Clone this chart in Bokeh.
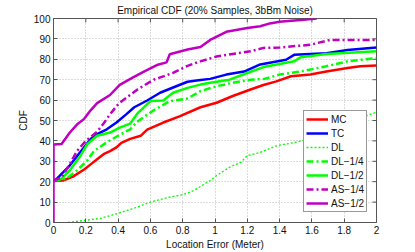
import math
from bokeh.plotting import figure
from bokeh.models import Range1d, FixedTicker, Legend, LegendItem
from bokeh.embed import file_html
from bokeh.resources import INLINE

# ---- data ----
x_ticks = [0, 0.2, 0.4, 0.6, 0.8, 1, 1.2, 1.4, 1.6, 1.8, 2]
x_tick_labels = ["0", "0.2", "0.4", "0.6", "0.8", "1", "1.2", "1.4", "1.6", "1.8", "2"]
y_ticks = [0, 10, 20, 30, 40, 50, 60, 70, 80, 90, 100]
y_tick_labels = ["0", "10", "20", "30", "40", "50", "60", "70", "80", "90", "100"]

mc_x = [0, 0.06, 0.12, 0.19, 0.23, 0.27, 0.31, 0.35, 0.39, 0.42, 0.475, 0.54, 0.58, 0.68, 0.78, 0.91, 1.01, 1.11, 1.22, 1.30, 1.38, 1.47, 1.59, 1.69, 1.82, 1.90, 2.0]
mc_y = [20.3, 20.6, 22.5, 26.0, 28.5, 31.0, 33.5, 35.0, 36.8, 39.0, 41.0, 42.5, 45.5, 49.0, 52.0, 56.5, 58.7, 62.0, 65.2, 67.4, 69.2, 71.7, 72.5, 74.0, 75.7, 76.6, 77.0]

tc_x = [0, 0.02, 0.10, 0.165, 0.23, 0.27, 0.33, 0.39, 0.45, 0.50, 0.58, 0.66, 0.76, 0.83, 0.91, 0.97, 1.07, 1.18, 1.28, 1.44, 1.49, 1.69, 1.82, 2.0]
tc_y = [20.5, 21.4, 27.9, 34.4, 40.9, 43.3, 45.7, 49.0, 53.0, 56.5, 59.8, 63.6, 66.8, 69.0, 69.8, 70.4, 72.5, 74.0, 77.5, 79.8, 82.2, 83.0, 84.6, 85.8]

dl_x = [0.09, 0.29, 0.40, 0.50, 0.60, 0.72, 0.80, 0.87, 0.97, 1.01, 1.09, 1.16, 1.20, 1.28, 1.38, 1.47, 1.54, 1.65, 1.80, 1.96, 2.0]
dl_y = [0, 2.0, 4.5, 7.0, 10.0, 12.5, 13.6, 15.7, 20.6, 23.0, 27.1, 29.5, 32.8, 34.4, 37.6, 38.9, 40.0, 43.0, 48.0, 53.0, 54.0]

dl4_x = [0, 0.08, 0.145, 0.21, 0.25, 0.33, 0.41, 0.475, 0.52, 0.62, 0.72, 0.83, 0.91, 1.01, 1.11, 1.22, 1.30, 1.40, 1.53, 1.69, 1.82, 2.0]
dl4_y = [20.3, 21.5, 25.5, 30.5, 35.0, 39.3, 43.0, 45.7, 49.5, 55.0, 59.5, 60.8, 64.4, 66.8, 68.5, 70.0, 70.3, 72.5, 74.0, 76.6, 79.0, 80.6]

dl2_x = [0, 0.05, 0.10, 0.165, 0.21, 0.27, 0.35, 0.41, 0.475, 0.52, 0.60, 0.68, 0.74, 0.83, 0.91, 0.97, 1.09, 1.20, 1.30, 1.49, 1.53, 1.69, 2.0]
dl2_y = [20.3, 21.5, 25.5, 32.5, 38.5, 42.5, 44.1, 46.5, 48.5, 53.5, 59.5, 59.8, 63.6, 66.0, 67.6, 68.5, 70.0, 73.3, 76.2, 79.0, 81.0, 82.6, 83.9]

as4_x = [0, 0.05, 0.10, 0.145, 0.20, 0.27, 0.31, 0.35, 0.39, 0.41, 0.52, 0.62, 0.74, 0.83, 0.91, 1.01, 1.14, 1.22, 1.30, 1.40, 1.59, 1.71, 2.0]
as4_y = [20.5, 22.0, 28.5, 35.0, 40.0, 44.5, 48.5, 53.0, 57.0, 58.7, 65.2, 70.0, 73.3, 76.8, 79.0, 81.4, 83.0, 83.9, 85.6, 85.8, 87.1, 89.5, 89.5]

as2_x = [0, 0, 0.05, 0.10, 0.145, 0.19, 0.23, 0.27, 0.35, 0.41, 0.49, 0.56, 0.64, 0.70, 0.72, 0.83, 0.91, 0.97, 1.07, 1.20, 1.28, 1.34, 1.40, 1.53, 1.63]
as2_y = [0, 38.2, 38.5, 44.0, 48.0, 50.8, 55.0, 58.5, 62.5, 67.5, 71.0, 74.0, 77.2, 78.5, 82.5, 84.8, 86.0, 89.5, 93.5, 95.3, 96.2, 97.6, 98.4, 99.3, 100.0]

FONT = "Liberation Sans"
AX = "#555555"
TXT = "#111111"

p = figure(width=415, height=252, output_backend="svg", toolbar_location=None,
           x_range=Range1d(0, 2), y_range=Range1d(0, 100),
           min_border_left=53, min_border_right=39, min_border_top=0, min_border_bottom=0,
           title="Empirical CDF (20% Samples, 3bBm Noise)")
p.title.align = "center"
p.title.text_font = FONT
p.title.text_font_size = "10px"
p.title.text_font_style = "normal"
p.title.text_color = TXT
p.title.standoff = 5
p.title.offset = 0

xax = p.xaxis[0]
yax = p.yaxis[0]
xax.ticker = FixedTicker(ticks=x_ticks)
yax.ticker = FixedTicker(ticks=y_ticks)
xax.major_label_overrides = {t: l for t, l in zip(x_ticks, x_tick_labels)}
yax.major_label_overrides = {t: l for t, l in zip(y_ticks, y_tick_labels)}
xax.axis_label = "Location Error (Meter)"
yax.axis_label = "CDF"

for ax in (xax, yax):
    ax.major_tick_in = 4
    ax.major_tick_out = 0
    ax.minor_tick_in = 0
    ax.minor_tick_out = 0
    ax.axis_line_color = AX
    ax.major_tick_line_color = AX
    ax.major_label_text_font = FONT
    ax.major_label_text_font_size = "10px"
    ax.major_label_text_color = TXT
    ax.axis_label_text_font = FONT
    ax.axis_label_text_font_size = "10px"
    ax.axis_label_text_font_style = "normal"
    ax.axis_label_text_color = TXT
    ax.major_label_standoff = 3
    ax.axis_label_standoff = 2

p.outline_line_color = AX
p.outline_line_width = 1
p.grid.grid_line_color = "#b8b8b8"
p.grid.grid_line_dash = "1 2"
p.grid.grid_line_width = 1

# mirrored inward ticks on the top and right edges of the box
p.ray(x=x_ticks, y=[100] * len(x_ticks), length=4, length_units="screen",
      angle=-math.pi / 2, line_color=AX, line_width=1)
p.ray(x=[2] * len(y_ticks), y=y_ticks, length=4, length_units="screen",
      angle=math.pi, line_color=AX, line_width=1)

RED = "#ff0000"
BLUE = "#0000ff"
GREEN = "#00ff00"
MAG = "#c000c0"
DASHDOT = "7 3 2 3"

r_mc = p.line(mc_x, mc_y, line_color=RED, line_width=2.5)
r_tc = p.line(tc_x, tc_y, line_color=BLUE, line_width=2.5)
r_dl = p.line(dl_x, dl_y, line_color=GREEN, line_width=1.3, line_dash="2 2")
r_dl4 = p.line(dl4_x, dl4_y, line_color=GREEN, line_width=2.5, line_dash=DASHDOT)
r_dl2 = p.line(dl2_x, dl2_y, line_color=GREEN, line_width=2.5)
r_as4 = p.line(as4_x, as4_y, line_color=MAG, line_width=2.5, line_dash=DASHDOT)
r_as2 = p.line(as2_x, as2_y, line_color=MAG, line_width=2.5)

legend = Legend(items=[
    LegendItem(label="MC", renderers=[r_mc]),
    LegendItem(label="TC", renderers=[r_tc]),
    LegendItem(label="DL", renderers=[r_dl]),
    LegendItem(label="DL\u22121/4", renderers=[r_dl4]),
    LegendItem(label="DL\u22121/2", renderers=[r_dl2]),
    LegendItem(label="AS\u22121/4", renderers=[r_as4]),
    LegendItem(label="AS\u22121/2", renderers=[r_as2]),
], location=(250, 10))
legend.border_line_color = "#333333"
legend.border_line_width = 1
legend.background_fill_color = "white"
legend.background_fill_alpha = 1
legend.padding = 2
legend.margin = 0
legend.spacing = 2
legend.glyph_height = 12
legend.label_height = 12
legend.glyph_width = 22
legend.label_standoff = 3
legend.label_text_font = FONT
legend.label_text_font_size = "10px"
legend.label_text_color = TXT
p.add_layout(legend)

open("out.html", "w").write(file_html(p, INLINE))
